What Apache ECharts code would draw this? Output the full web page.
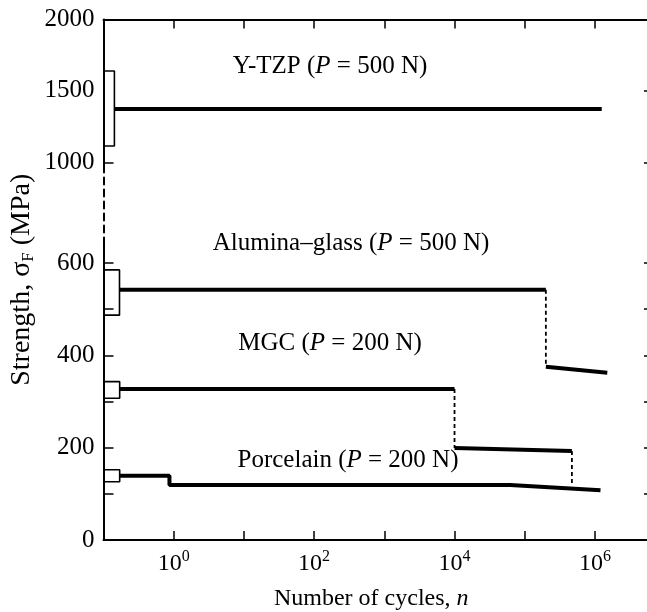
<!DOCTYPE html>
<html>
<head>
<meta charset="utf-8">
<script src="https://cdn.jsdelivr.net/npm/echarts@6/dist/echarts.min.js"></script>
<style>
html, body { margin: 0; padding: 0; background: #fff; }
#main { width: 647px; height: 612px; }
</style>
</head>
<body>
<div id="main"></div>
<script>
// tick values
var xLabelPowers = [0, 2, 4, 6];
var upperLabels = [1000, 1500, 2000];
var upperLeftTicks = [1000];
var upperRightTicks = [1000, 1500];
var lowerLabels = [0, 200, 400, 600];
var lowerLeftTicks = [0, 100, 200, 300, 400, 500, 600];
var lowerRightTicks = [100, 200, 300, 400, 500, 600];

// initial strength scatter boxes: [n left, n right, low, high]
var ytzpBox = [0.1, 0.143, 1114, 1639];
var aluminaBox = [0.1, 0.169, 487, 585];
var mgcBox = [0.1, 0.17, 307, 343];
var porcelainBox = [0.1, 0.17, 126, 152];

// strength vs cycles
var ytzpLine = [[0.143, 1373], [1.25e6, 1373]];
var aluminaLine1 = [[0.169, 542], [2e5, 542]];
var aluminaDrop = [[2e5, 542], [2e5, 375]];
var aluminaLine2 = [[2e5, 375], [1.5e6, 362]];
var mgcLine1 = [[0.17, 327], [1e4, 327]];
var mgcDrop1 = [[1e4, 327], [1e4, 199]];
var mgcLine2 = [[1e4, 199], [4.7e5, 193]];
var mgcDrop2 = [[4.7e5, 193], [4.7e5, 122]];
var porcelainLine = [[0.17, 139], [0.87, 139], [0.87, 119], [6.2e4, 119], [1.2e6, 108]];

var FONT = 'Liberation Serif';
var chart = echarts.init(document.getElementById('main'));

function boxPts(b) {
    return [[b[0], b[2]], [b[1], b[2]], [b[1], b[3]], [b[0], b[3]]];
}
function solid(data, xi, yi) {
    return {type: 'line', xAxisIndex: xi, yAxisIndex: yi, data: data, symbol: 'none',
        lineStyle: {color: '#000', width: 4}, z: 3};
}
function dashed(data, xi, yi) {
    return {type: 'line', xAxisIndex: xi, yAxisIndex: yi, data: data, symbol: 'none',
        lineStyle: {color: '#000', width: 1.8, type: [4, 3]}, z: 2};
}
function box(b, xi, yi) {
    return {type: 'line', xAxisIndex: xi, yAxisIndex: yi, data: boxPts(b), symbol: 'none',
        lineStyle: {color: '#000', width: 1.6}, z: 2};
}
function powLabel(v) {
    var e = Math.log10(v);
    var r = Math.round(e);
    if (Math.abs(e - r) > 1e-6) return '';
    if (xLabelPowers.indexOf(r) == -1) return '';
    return '{b|10}{s|' + r + '}';
}
function plain(v) {
    return '' + v;
}
var richLbl = {
    r: {fontFamily: FONT, fontSize: 25, fill: '#000', color: '#000'},
    i: {fontFamily: FONT, fontSize: 25, fontStyle: 'italic', fill: '#000', color: '#000'}
};
function note(x, y, pre, post) {
    return {type: 'text', x: x, y: y, z: 10,
        style: {text: '{r|' + pre + '}{i|P}{r|' + post + '}', rich: richLbl,
            align: 'center', verticalAlign: 'middle', fill: '#000'}};
}
var axLine = {show: true, onZero: false, lineStyle: {color: '#000', width: 2}};
var GW = 548.5;

var option = {
    animation: false,
    backgroundColor: '#fff',
    grid: [
        {left: 103.5, width: GW, top: 19.5, height: 150, outerBoundsMode: 'none'},
        {left: 103.5, width: GW, top: 169.5, height: 75, outerBoundsMode: 'none'},
        {left: 103.5, width: GW, top: 244.5, height: 295.5, outerBoundsMode: 'none'},
        {left: 103.5, width: GW, top: 19.5, height: 520.5, outerBoundsMode: 'none'}
    ],
    xAxis: [
        {gridIndex: 0, type: 'log', logBase: 10, min: 0.1, max: 6.5e6, position: 'top',
            axisLine: axLine,
            axisTick: {show: true, inside: true, length: 9, lineStyle: {color: '#000', width: 1.5}},
            axisLabel: {show: false}, splitLine: {show: false}},
        {gridIndex: 1, type: 'log', min: 0.1, max: 6.5e6, show: false},
        {gridIndex: 2, type: 'log', logBase: 10, min: 0.1, max: 6.5e6, position: 'bottom',
            axisLine: axLine,
            axisTick: {show: true, inside: true, length: 9, lineStyle: {color: '#000', width: 1.5}},
            axisLabel: {show: true, margin: 9, formatter: powLabel, color: '#000',
                rich: {
                    b: {fontFamily: FONT, fontSize: 24, color: '#000', lineHeight: 30},
                    s: {fontFamily: FONT, fontSize: 16, color: '#000', verticalAlign: 'top', lineHeight: 14}
                }},
            splitLine: {show: false},
            name: '{r|Number of cycles, }{i|n}', nameLocation: 'middle', nameGap: 47,
            nameTextStyle: {padding: [0, 13, 0, 0], rich: {
                r: {fontFamily: FONT, fontSize: 24, color: '#000'},
                i: {fontFamily: FONT, fontSize: 24, fontStyle: 'italic', color: '#000'}
            }}},
        {gridIndex: 3, type: 'value', min: 0, max: 1, show: false}
    ],
    yAxis: [
        {gridIndex: 0, type: 'value', min: 950, max: 2000, position: 'left',
            axisLine: axLine,
            axisTick: {show: true, inside: true, length: 10, customValues: upperLeftTicks,
                lineStyle: {color: '#000', width: 1.5}},
            axisLabel: {show: true, customValues: upperLabels, margin: 9, formatter: plain,
                fontFamily: FONT, fontSize: 25, color: '#000'},
            splitLine: {show: false}},
        {gridIndex: 0, type: 'value', min: 950, max: 2000, position: 'right',
            axisLine: {show: false},
            axisTick: {show: true, inside: true, length: 8, customValues: upperRightTicks,
                lineStyle: {color: '#000', width: 1.5}},
            axisLabel: {show: false}, splitLine: {show: false}},
        {gridIndex: 1, type: 'value', min: 0, max: 1, position: 'left',
            axisLine: {show: true, onZero: false, lineStyle: {color: '#000', width: 2, type: [7, 5]}},
            axisTick: {show: false}, axisLabel: {show: false}, splitLine: {show: false}},
        {gridIndex: 2, type: 'value', min: 0, max: 640, position: 'left',
            axisLine: axLine,
            axisTick: {show: true, inside: true, length: 10, customValues: lowerLeftTicks,
                lineStyle: {color: '#000', width: 1.5}},
            axisLabel: {show: true, customValues: lowerLabels, margin: 9, formatter: plain,
                fontFamily: FONT, fontSize: 25, color: '#000'},
            splitLine: {show: false}},
        {gridIndex: 2, type: 'value', min: 0, max: 640, position: 'right',
            axisLine: {show: false},
            axisTick: {show: true, inside: true, length: 8, customValues: lowerRightTicks,
                lineStyle: {color: '#000', width: 1.5}},
            axisLabel: {show: false}, splitLine: {show: false}},
        {gridIndex: 3, type: 'value', min: 0, max: 1, position: 'left',
            axisLine: {show: false}, axisTick: {show: false}, axisLabel: {show: false},
            splitLine: {show: false},
            name: '{r|Strength, σ}{sub|F}{r| (MPa)}', nameLocation: 'middle', nameGap: 66,
            nameRotate: 90,
            nameTextStyle: {rich: {
                r: {fontFamily: FONT, fontSize: 28, color: '#000', lineHeight: 32},
                sub: {fontFamily: FONT, fontSize: 17, color: '#000', verticalAlign: 'bottom', lineHeight: 18}
            }}}
    ],
    graphic: [
        note(330, 66, 'Y-TZP (', ' = 500 N)'),
        note(351, 243, 'Alumina–glass (', ' = 500 N)'),
        note(330, 343, 'MGC (', ' = 200 N)'),
        note(348, 460, 'Porcelain (', ' = 200 N)')
    ],
    series: [
        box(ytzpBox, 0, 0),
        solid(ytzpLine, 0, 0),
        box(aluminaBox, 2, 3),
        solid(aluminaLine1, 2, 3),
        dashed(aluminaDrop, 2, 3),
        solid(aluminaLine2, 2, 3),
        box(mgcBox, 2, 3),
        solid(mgcLine1, 2, 3),
        dashed(mgcDrop1, 2, 3),
        solid(mgcLine2, 2, 3),
        dashed(mgcDrop2, 2, 3),
        box(porcelainBox, 2, 3),
        solid(porcelainLine, 2, 3)
    ]
};
chart.setOption(option);
</script>
</body>
</html>
